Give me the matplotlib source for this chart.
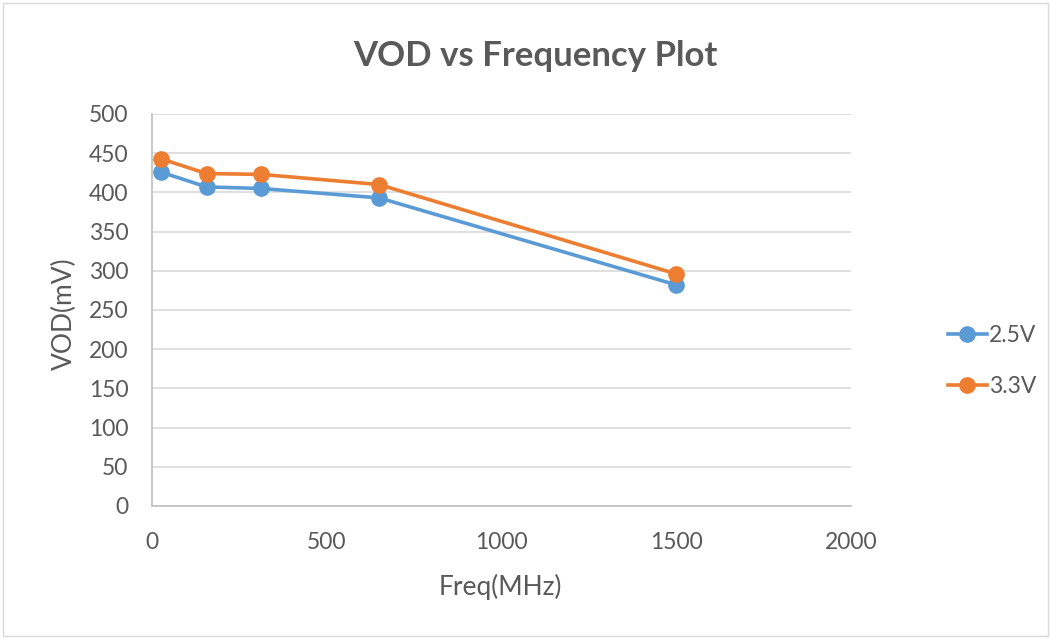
import matplotlib.pyplot as plt
from matplotlib.patches import Rectangle

freq = [25, 156, 312, 650, 1500]
vod_25 = [426, 407, 405, 393, 282]
vod_33 = [443, 424, 423, 410, 296]
series_labels = ["2.5V", "3.3V"]
title = "VOD vs Frequency Plot"
xlabel = "Freq(MHz)"
ylabel = "VOD(mV)"

plt.rcParams['font.family'] = ['Lato', 'DejaVu Sans']
txt = '#595959'

fig = plt.figure(figsize=(10.51, 6.39), dpi=100)
ax = fig.add_axes([152/1051, 1-506/639, (851-152)/1051, (506-114)/639])

blue = '#5B9BD5'
orange = '#ED7D31'
ax.plot(freq, vod_25, color=blue, lw=2.6, marker='o', ms=11, label=series_labels[0], zorder=3)
ax.plot(freq, vod_33, color=orange, lw=2.6, marker='o', ms=11, label=series_labels[1], zorder=3)

ax.set_xlim(0, 2000)
ax.set_ylim(0, 500)
ax.set_xticks(range(0, 2001, 500))
ax.set_yticks(range(0, 501, 50))
ax.grid(axis='y', color='#D9D9D9', lw=1.2)
ax.set_axisbelow(True)
for s in ['top', 'right']:
    ax.spines[s].set_visible(False)
for s in ['left', 'bottom']:
    ax.spines[s].set_color('#BFBFBF')
    ax.spines[s].set_linewidth(1.2)
ax.tick_params(axis='both', length=0, labelsize=16.5, labelcolor=txt)
ax.tick_params(axis='x', pad=19)
ax.tick_params(axis='y', pad=17)

ax.set_xlabel(xlabel, fontsize=19, color=txt, va='center')
ax.set_ylabel(ylabel, fontsize=19, color=txt, va='center')
ax.xaxis.set_label_coords(500/1051, 1-587/639, transform=fig.transFigure)
ax.yaxis.set_label_coords(64/1051, 1-314/639, transform=fig.transFigure)
fig.text(535/1051, 1-56/639, title, ha='center', va='center', fontsize=25, fontweight='bold', color=txt)

leg = fig.legend(loc='center left', bbox_to_anchor=(927/1051, 1-361/639), frameon=False,
                 fontsize=16.5, labelcolor=txt, handlelength=1.7, labelspacing=1.3,
                 handletextpad=0.1)

fig.patches.append(Rectangle((0.003, 0.004), 0.994, 0.992, transform=fig.transFigure,
                             fill=False, edgecolor='#D9D9D9', lw=1))

fig.savefig('out.png', dpi=100, facecolor='white')
